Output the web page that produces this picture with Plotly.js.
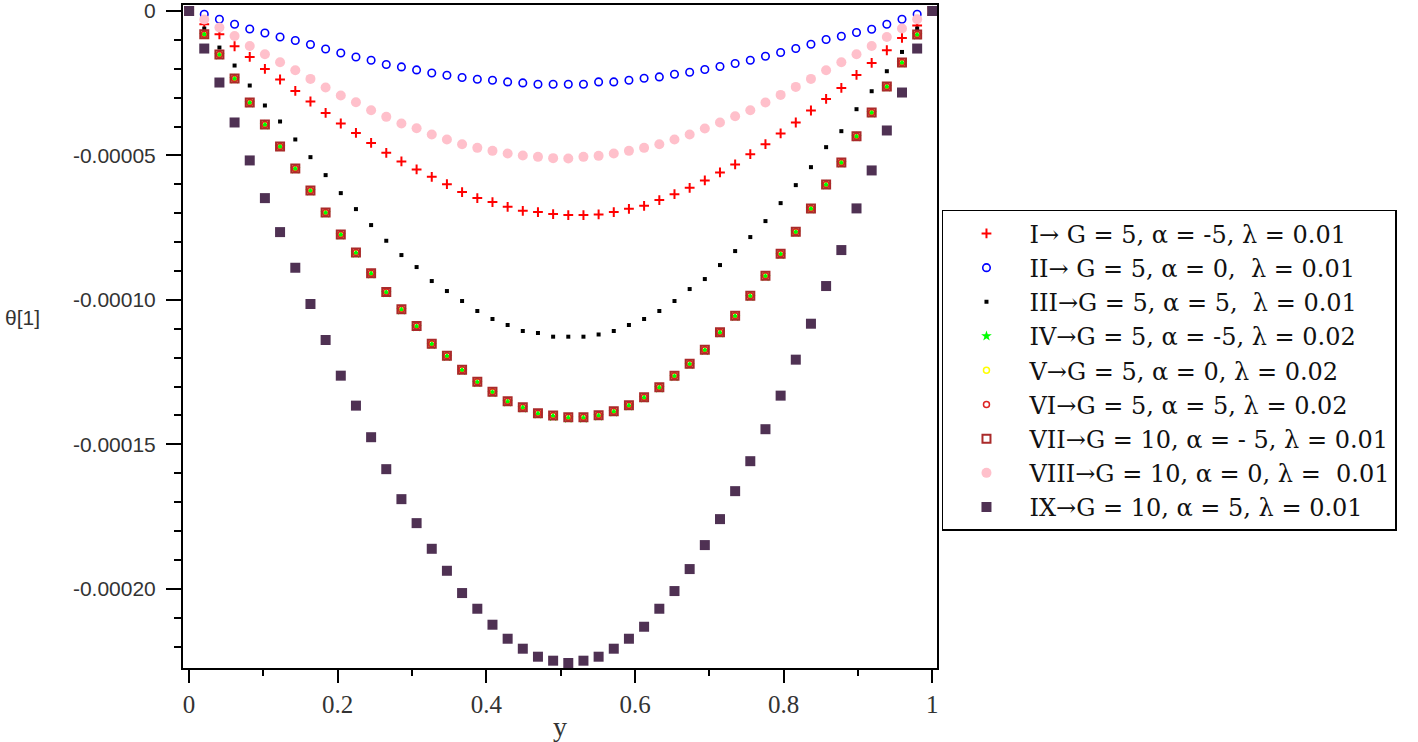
<!DOCTYPE html>
<html>
<head>
<meta charset="utf-8">
<script src="https://cdn.plot.ly/plotly-3.0.1.min.js"></script>
<style>html,body{margin:0;padding:0;background:#fff;}#chart{width:1418px;height:742px;}</style>
</head>
<body>
<div id="chart"></div>
<script>
// y-coordinate (abscissa) values
var yPos = [0, 0.0204, 0.0408, 0.0612, 0.0816, 0.1020, 0.1224, 0.1429, 0.1633, 0.1837,
  0.2041, 0.2245, 0.2449, 0.2653, 0.2857, 0.3061, 0.3265, 0.3469, 0.3673, 0.3878,
  0.4082, 0.4286, 0.4490, 0.4694, 0.4898, 0.5102, 0.5306, 0.5510, 0.5714, 0.5918,
  0.6122, 0.6327, 0.6531, 0.6735, 0.6939, 0.7143, 0.7347, 0.7551, 0.7755, 0.7959,
  0.8163, 0.8367, 0.8571, 0.8776, 0.8980, 0.9184, 0.9388, 0.9592, 0.9796, 1];

// theta[1] series (units 1e-6)
var s1 = [0,-4.60,-8.06,-12.21,-15.91,-20.06,-23.72,-27.66,-31.33,-35.27,-38.94,-42.19,-45.65,-49.10,-52.08,-54.84,-57.40,-59.93,-62.69,-64.77,-66.15,-67.78,-69.16,-69.61,-70.30,-70.65,-70.65,-70.41,-69.61,-68.47,-67.43,-65.46,-63.39,-61.21,-58.65,-55.88,-53.11,-49.55,-46.10,-42.39,-38.59,-34.44,-30.43,-26.63,-22.13,-17.98,-13.59,-9.34,-5.05,0];
var s2 = [0,-1.14,-2.87,-4.60,-6.22,-7.61,-8.99,-10.24,-11.62,-13.14,-14.52,-15.91,-17.05,-18.53,-19.36,-20.40,-21.44,-22.23,-23.03,-23.62,-23.96,-24.55,-24.90,-25.35,-25.35,-25.35,-25.35,-24.55,-24.55,-23.96,-23.27,-22.82,-21.89,-21.20,-20.26,-19.23,-18.19,-17.05,-15.66,-14.39,-13.00,-11.52,-9.89,-8.75,-7.47,-6.33,-4.60,-2.87,-1.14,0];
var s3 = [0,-6.09,-12.66,-18.88,-25.80,-32.71,-38.25,-44.47,-50.59,-56.81,-63.04,-68.57,-74.10,-79.53,-84.48,-88.63,-93.47,-96.93,-100.39,-103.84,-106.61,-108.68,-110.76,-111.45,-112.73,-112.73,-112.73,-111.97,-110.76,-108.68,-106.61,-103.84,-100.39,-96.24,-92.78,-87.94,-83.10,-78.25,-72.72,-66.50,-60.27,-54.05,-47.13,-41.60,-33.99,-27.77,-20.85,-14.18,-6.09,0];
var s4 = [0,-8.20,-15.30,-23.60,-31.90,-39.50,-47.10,-54.80,-62.40,-70.00,-77.60,-83.90,-91.10,-97.60,-103.60,-109.40,-115.50,-119.70,-124.50,-128.70,-132.10,-135.40,-137.50,-139.60,-140.40,-141.00,-141.00,-140.30,-138.90,-136.80,-134.00,-130.60,-126.60,-122.40,-117.60,-111.50,-105.80,-98.90,-92.00,-84.40,-76.70,-68.60,-60.30,-52.70,-43.60,-35.40,-26.40,-18.10,-8.40,0];
var s5 = [0,-8.06,-15.08,-23.38,-31.68,-39.28,-46.89,-54.50,-62.11,-69.71,-77.32,-83.55,-90.81,-97.27,-103.26,-109.03,-115.15,-119.30,-124.14,-128.29,-131.75,-135.07,-137.14,-139.22,-140.05,-140.60,-140.60,-139.91,-138.53,-136.45,-133.69,-130.23,-126.22,-122.07,-117.23,-111.21,-105.47,-98.55,-91.64,-84.03,-76.42,-68.33,-60.03,-52.42,-43.33,-35.13,-26.14,-17.84,-8.16,0];
var s6 = [0,-8.06,-15.08,-23.38,-31.68,-39.28,-46.89,-54.50,-62.11,-69.71,-77.32,-83.55,-90.81,-97.27,-103.26,-109.03,-115.15,-119.30,-124.14,-128.29,-131.75,-135.07,-137.14,-139.22,-140.05,-140.60,-140.60,-139.91,-138.53,-136.45,-133.69,-130.23,-126.22,-122.07,-117.23,-111.21,-105.47,-98.55,-91.64,-84.03,-76.42,-68.33,-60.03,-52.42,-43.33,-35.13,-26.14,-17.84,-8.16,0];
var s7 = [0,-8.06,-15.08,-23.38,-31.68,-39.28,-46.89,-54.50,-62.11,-69.71,-77.32,-83.55,-90.81,-97.27,-103.26,-109.03,-115.15,-119.30,-124.14,-128.29,-131.75,-135.07,-137.14,-139.22,-140.05,-140.60,-140.60,-139.91,-138.53,-136.45,-133.69,-130.23,-126.22,-122.07,-117.23,-111.21,-105.47,-98.55,-91.64,-84.03,-76.42,-68.33,-60.03,-52.42,-43.33,-35.13,-26.14,-17.84,-8.16,0];
var s8 = [0,-2.97,-5.74,-8.65,-12.10,-14.97,-17.74,-20.51,-23.51,-26.49,-29.25,-31.57,-34.34,-36.65,-38.94,-40.56,-42.74,-44.47,-46.10,-47.37,-48.41,-49.31,-50.00,-50.49,-50.94,-51.04,-50.49,-50.14,-49.31,-48.41,-47.37,-46.10,-44.47,-42.74,-40.67,-38.59,-36.41,-34.34,-31.68,-29.05,-26.28,-23.51,-20.51,-17.74,-14.97,-12.10,-8.99,-6.09,-2.87,0];
var s9 = [0,-13.00,-24.76,-38.59,-51.73,-64.77,-76.53,-88.87,-101.42,-113.87,-126.22,-136.59,-147.52,-158.58,-168.96,-177.26,-186.14,-193.75,-201.46,-206.89,-212.42,-217.27,-220.72,-223.49,-224.87,-225.67,-224.87,-223.49,-220.72,-217.27,-213.12,-206.89,-200.77,-193.16,-184.86,-175.87,-166.19,-155.82,-144.75,-133.13,-120.68,-108.24,-95.20,-82.75,-68.33,-55.19,-41.36,-28.22,-13.00,0];
var unitScale = 1e-6;

var seriesNames = [
  "I\u2192 G = 5, \u03b1 = -5, \u03bb = 0.01",
  "II\u2192 G = 5, \u03b1 = 0,\u00a0 \u03bb = 0.01",
  "III\u2192G = 5, \u03b1 = 5,\u00a0 \u03bb = 0.01",
  "IV\u2192G = 5, \u03b1 = -5, \u03bb = 0.02",
  "V\u2192G = 5, \u03b1 = 0, \u03bb = 0.02",
  "VI\u2192G = 5, \u03b1 = 5, \u03bb = 0.02",
  "VII\u2192G = 10, \u03b1 = - 5, \u03bb = 0.01",
  "VIII\u2192G = 10, \u03b1 = 0, \u03bb =\u00a0 0.01",
  "IX\u2192G = 10, \u03b1 = 5, \u03bb = 0.01"
];
var xTickVals = [0, 0.2, 0.4, 0.6, 0.8, 1];
var xTickText = ["0", "0.2", "0.4", "0.6", "0.8", "1"];
var yTickVals = [0, -0.00005, -0.0001, -0.00015, -0.0002];
var yTickText = ["0", "-0.00005", "-0.00010", "-0.00015", "-0.00020"];

var seriesData = [s1, s2, s3, s4, s5, s6, s7, s8, s9];
var markerStyles = [
  {symbol: 'cross-thin-open', size: 7, color: '#ff0000', line: {color: '#ff0000', width: 2}},
  {symbol: 'circle-open', size: 7.5, color: '#0000ff', line: {color: '#0000ff', width: 1.6}},
  {symbol: 'square', size: 4, color: '#000000', line: {width: 0}},
  {symbol: 'star', size: 8, color: '#00ff00', line: {width: 0}},
  {symbol: 'circle-open', size: 6, color: '#ffff00', line: {color: '#ffff00', width: 1.5}},
  {symbol: 'circle-open', size: 6, color: '#dd2222', line: {color: '#dd2222', width: 1.5}},
  {symbol: 'square-open', size: 8, color: '#aa2a2a', line: {color: '#aa2a2a', width: 2}},
  {symbol: 'circle', size: 10, color: '#ffc0cb', line: {width: 0}},
  {symbol: 'square', size: 10, color: '#4f3153', line: {width: 0}}
];

var traces = seriesData.map(function (s, k) {
  return {
    x: yPos,
    y: s.map(function (v) { return v * unitScale; }),
    type: 'scatter',
    mode: 'markers',
    name: seriesNames[k],
    legendgroup: 'g' + k,
    marker: markerStyles[k],
    cliponaxis: false
  };
});

var layout = {
  width: 1418, height: 742,
  paper_bgcolor: '#ffffff', plot_bgcolor: '#ffffff',
  margin: {l: 183, r: 481, t: 5, b: 74, pad: 0},
  showlegend: true,
  legend: {
    x: 1.0066, xanchor: 'left', y: 0.691, yanchor: 'top',
    bgcolor: '#ffffff', bordercolor: '#000000', borderwidth: 1.5,
    font: {family: 'DejaVu Serif', size: 24, color: '#111111'},
    traceorder: 'grouped', tracegroupgap: 0, itemwidth: 76
  },
  xaxis: {
    range: [-0.0082, 1.0063], showgrid: false, zeroline: false,
    showline: true, linecolor: '#000000', linewidth: 2, mirror: true,
    ticks: 'outside', ticklen: 13, tickwidth: 2, tickcolor: '#000000',
    tickmode: 'array', tickvals: xTickVals, ticktext: xTickText,
    tickfont: {family: 'Liberation Serif', size: 25, color: '#333333'},
    minor: {tickmode: 'linear', tick0: 0, dtick: 0.1, ticks: 'outside', ticklen: 6, tickwidth: 2, tickcolor: '#000000', showgrid: false},
    title: {text: 'y', font: {family: 'Liberation Serif', size: 28, color: '#333333'}, standoff: 0}
  },
  yaxis: {
    range: [-0.0002274, 0.00000207], showgrid: false, zeroline: false,
    showline: true, linecolor: '#000000', linewidth: 2, mirror: true,
    ticks: 'outside', ticklen: 15, tickwidth: 2, tickcolor: '#000000',
    tickmode: 'array', tickvals: yTickVals, ticktext: yTickText,
    tickfont: {family: 'Liberation Sans', size: 21, color: '#333333'},
    minor: {tickmode: 'linear', tick0: 0, dtick: 0.00001, ticks: 'outside', ticklen: 7, tickwidth: 2, tickcolor: '#000000', showgrid: false},
    ticklabelstandoff: 6, ticklabeloverflow: 'allow'
  },
  annotations: [{
    text: '\u03b8[1]', xref: 'paper', yref: 'paper', x: -0.2392, y: 0.528,
    xanchor: 'left', yanchor: 'middle', showarrow: false,
    font: {family: 'Liberation Sans', size: 21, color: '#333333'}
  }]
};

Plotly.newPlot('chart', traces, layout, {displayModeBar: false, staticPlot: true});
</script>
</body>
</html>
